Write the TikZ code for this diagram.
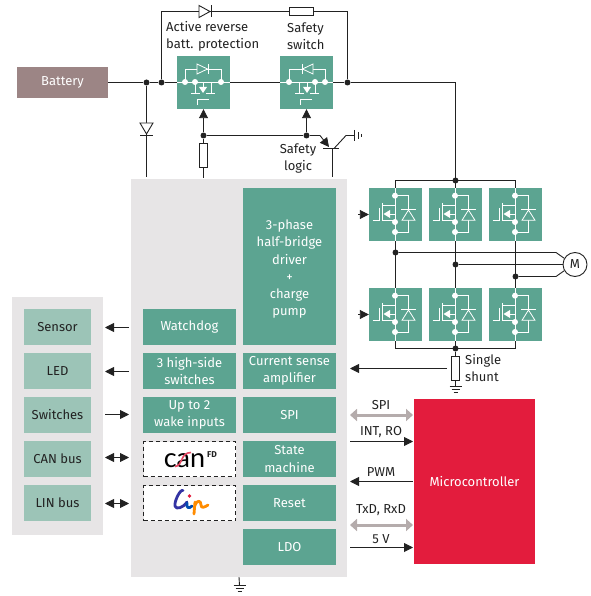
\documentclass[tikz,border=0pt]{standalone}
\usepackage{fontspec}
\setmainfont{Fira Sans}
\newfontfamily\canfont{Lato}
\usetikzlibrary{arrows.meta}
\definecolor{grn}{HTML}{5CA491}
\definecolor{lgrn}{HTML}{9CC4B7}
\definecolor{pnl}{HTML}{E7E5E6}
\definecolor{ink}{HTML}{222222}
\definecolor{bat}{HTML}{9C8585}
\definecolor{mcu}{HTML}{E31C3D}
\definecolor{garr}{HTML}{B5ACAC}
\tikzset{
 x=1pt,y=-1pt,
 every node/.style={font=\fontsize{13}{17.2}\selectfont,text=ink,align=center,inner sep=0pt},
 wire/.style={draw=ink,line width=0.9pt},
 arr/.style={wire,-{Triangle[length=9pt,width=9pt]}},
 darr/.style={wire,{Triangle[length=9pt,width=9pt]}-{Triangle[length=9pt,width=9pt]}},
 garrow/.style={draw=garr,line width=3pt,{Triangle[length=7pt,width=12pt]}-{Triangle[length=7pt,width=12pt]}},
 gbox/.style={fill=grn,text=white,minimum width=93pt,minimum height=36pt},
 lbox/.style={fill=lgrn,minimum width=67pt,minimum height=36pt},
 swbox/.style={fill=grn,minimum width=53pt,minimum height=53pt},
 logobox/.style={draw=ink,dash pattern=on 4pt off 3pt,line width=1.1pt,fill=white,minimum width=92pt,minimum height=35pt},
 res/.style={draw=ink,line width=0.9pt,fill=white,minimum width=8pt,minimum height=24pt},
 resh/.style={draw=ink,line width=0.9pt,fill=white,minimum width=24pt,minimum height=8pt},
 dot/.style={circle,fill=ink,minimum size=6pt},
 wdot/.style={circle,fill=white,minimum size=6pt},
 ic/.style={draw=white,line width=0.8pt},
 pass/.pic={
  \draw[ic] (0,26)--(53,26);
  \draw[ic] (8,26)--(8,13)--(44,13)--(44,26);
  \draw[ic,fill=grn] (20,8)--(30.5,13)--(20,18)--cycle;
  \draw[ic] (31,8)--(31,18);
  \draw[ic] (18,26)--(18,37);
  \draw[ic] (14,37)--(23,37) (29,37)--(38,37);
  \draw[ic] (18,26.5)--(26,26.5)--(26,31);
  \fill[white] (22,31)--(30,31)--(26,37)--cycle;
  \draw[ic] (34,37)--(34,26)--(44,26);
  \node[wdot] at (8,26) {};\node[wdot] at (18,26) {};\node[wdot] at (44,26) {};
 },
 bridge/.pic={
  \draw[ic] (26,0)--(26,53);
  \draw[ic] (26,7.7)--(39.5,7.7)--(39.5,44)--(26,44);
  \draw[ic,fill=grn] (39.5,22)--(33,32.3)--(46,32.3)--cycle;
  \draw[ic] (32,21.7)--(47,21.7);
  \draw[ic] (3.5,32)--(10,32)--(10,20);
  \draw[ic] (13.7,15)--(13.7,33);
  \draw[ic] (13.7,17.7)--(26,17.7) (13.7,32)--(26,32);
  \draw[ic] (16,26)--(26,26)--(26,34);
  \fill[white] (14.5,26)--(21,22)--(21,30)--cycle;
  \node[wdot] at (26,7.7) {};\node[wdot] at (26,34) {};\node[wdot] at (26,44) {};
 },
 gnd/.pic={
  \draw[wire] (-6,0)--(6,0) (-4,3)--(4,3) (-2,6)--(2,6);
 }
}
\begin{document}
\begin{tikzpicture}
\useasboundingbox (0,0) rectangle (590,596);
% panels
\node[fill=pnl,minimum width=216pt,minimum height=398pt] (main) at (239,378) {};
\node[fill=pnl,minimum width=91pt,minimum height=238pt] (side) at (57.5,416) {};
% wiring at the top
\node[fill=bat,text=white,minimum width=91pt,minimum height=31pt] (batt) at (62.5,82.5) {Battery};
\node[swbox] (m1) at (203.5,82.5) {};
\node[swbox] (m2) at (306.5,82.5) {};
\node[dot] (j1) at (146.5,82.5) {};
\node[dot] (j2) at (161.5,82.5) {};
\node[dot] (j3) at (347.5,82.5) {};
\coordinate (tl) at (161.5,11.5);
\coordinate (tr) at (347.5,11.5);
\coordinate (mid) at (455.5,82.5);
\coordinate (rail) at (455.5,180.5);
\draw[wire] (batt.east)--(j1)--(j2)--(m1.west);
\draw[wire] (m1.east)--(m2.west);
\draw[wire] (m2.east)--(j3)--(mid)--(rail);
\draw[wire] (j2)--(tl)--(tr)--(j3);
\node[resh] (rs) at (301,11.5) {};
\draw[wire,fill=white] (199,5.5)--(210,11.5)--(199,17.5)--cycle;
\draw[wire] (211,5.5)--(211,17.5);
\node[dot,minimum size=0pt] (dk) at (211,11.5) {};
\draw[wire] (dk)--(rs.west);
\coordinate (dl) at (146.5,177);
\draw[wire] (j1)--(dl);
\draw[wire,fill=white] (140,123)--(146.5,134)--(153,123)--cycle;
\draw[wire] (140,135)--(153,135);
\path (m1) pic[shift={(-26.5,-26.5)}] {pass};
\path (m2) pic[shift={(26.5,-26.5)},xscale=-1] {pass};
% gates of the pass switches
\draw[ic] (197,105)--(197,99)--(209,99);
\draw[ic] (300,105)--(300,99)--(312,99);
% safety logic
\node[dot] (g1) at (203.5,135.5) {};
\node[dot] (g2) at (306.5,135.5) {};
\node[res] (r1) at (203.5,155.5) {};
\coordinate (ge) at (329,147);
\coordinate (tb) at (332.5,148.5);
\coordinate (tc) at (346,135.5);
\coordinate (tg) at (354.5,135.5);
\coordinate (tbot) at (332.5,177);
\draw[arr] (g1)--(m1.south);
\draw[arr] (g2)--(m2.south);
\draw[wire] (g1)--(r1.north);
\draw[wire] (r1.south)--(203.5,178);
\draw[wire] (g1)--(g2)--(320,135.5);
\draw[arr] (320,135.5)--(ge);
\draw[wire] (323,148.5)--(339,148.5);
\draw[wire] (tb)--(tbot);
\draw[wire] (334,148.5)--(tc)--(tg);
\draw[wire] (354.5,130)--(354.5,141) (358.5,132)--(358.5,139) (361.5,134)--(361.5,137);
\node[anchor=west,align=left] at (166,36) {Active reverse\\batt. protection};
\node[anchor=west,align=left] at (287,36) {Safety\\switch};
\node (sl) at (298,158.5) {Safety\\logic};
% IC blocks
\node[gbox,minimum height=157pt] (drv) at (289.5,266.5) {\\[-2pt]3-phase\\half-bridge\\driver\\+\\charge\\pump};
\node[gbox] (wd) at (189.5,327) {Watchdog};
\node[gbox] (hs) at (189.5,371) {3 high-side\\switches};
\node[gbox] (wk) at (189.5,415) {Up to 2\\wake inputs};
\node[gbox] (cs) at (289.5,371) {Current sense\\amplifier};
\node[gbox] (spi) at (289.5,415) {SPI};
\node[gbox] (sm) at (289.5,459) {State\\machine};
\node[gbox] (rst) at (289.5,503) {Reset};
\node[gbox] (ldo) at (289.5,547) {LDO};
\node[logobox] (can) at (189.5,459) {};
\node[logobox] (lin) at (189.5,503) {};
% CAN logo
\node[anchor=base,font=\canfont\fontsize{27}{27}\selectfont,text=black] (cantext) at (184.5,467) {can};
\draw[draw=mcu!80!white,line width=1.6pt] (175,466.5) .. controls (183,466) and (180,452.5) .. (191,452.5);
\node[font=\fontsize{8.5}{9}\selectfont\bfseries] at (212,454.5) {FD};
% LIN logo
\begin{scope}[line cap=round,line join=round,line width=2.8pt]
 \draw[draw=blue!55!black!80] (183,490.5) .. controls (180,489) and (174,502) .. (175,506) .. controls (176,510) and (183,508) .. (187,502);
 \draw[draw=teal!60!blue] (187,503) .. controls (186,508) and (189,509) .. (192,506);
 \fill[mcu] (189.5,496) circle (1.8pt);
 \draw[draw=orange!90!yellow] (195,502) -- (194,514);
 \draw[draw=orange!90!yellow] (195,505) .. controls (197,500) and (201,500) .. (201,505) .. controls (201,509) and (205,507) .. (208,505);
\end{scope}
% left panel
\node[lbox] (sen) at (57.5,327) {Sensor};
\node[lbox] (led) at (57.5,371) {LED};
\node[lbox] (sw) at (57.5,415) {Switches};
\node[lbox] (canb) at (57.5,459) {CAN bus};
\node[lbox] (linb) at (57.5,503) {LIN bus};
\coordinate (a1) at (129,327.5);\coordinate (a1e) at (105,327.5);
\coordinate (a2) at (129,371.5);\coordinate (a2e) at (105,371.5);
\coordinate (a3) at (105,414.5);\coordinate (a3e) at (129,414.5);
\coordinate (a4) at (105,457.5);\coordinate (a4e) at (129,457.5);
\coordinate (a5) at (105,503.5);\coordinate (a5e) at (129,503.5);
\draw[arr] (a1)--(a1e);
\draw[arr] (a2)--(a2e);
\draw[arr] (a3)--(a3e);
\draw[darr] (a4)--(a4e);
\draw[darr] (a5)--(a5e);
% bridge
\foreach \n/\x/\y in {q1/395.5/214.5,q2/455.5/214.5,q3/515.5/214.5,q4/395.5/314.5,q5/455.5/314.5,q6/515.5/314.5}{
 \node[swbox] (\n) at (\x,\y) {};
}
\draw[wire] (q1.north)--(395.5,180.5)--(515.5,180.5)--(q3.north);
\draw[wire] (q2.north)--(rail);
\node[dot] at (rail) {};
\foreach \a/\b in {q1/q4,q2/q5,q3/q6}{\draw[wire] (\a.south)--(\b.north);}
\coordinate (brail) at (455.5,348.5);
\draw[wire] (q4.south)--(395.5,348.5)--(515.5,348.5)--(q6.south);
\draw[wire] (q5.south)--(brail);
\node[dot] (bd) at (brail) {};
\foreach \n in {q1,q2,q3,q4,q5,q6}{\path (\n) pic[shift={(-26.5,-26.5)}] {bridge};}
\node[circle,draw=ink,line width=0.9pt,fill=white,minimum size=24pt] (mot) at (575,264.5) {M};
\node[dot] (p1) at (395.5,252.5) {};
\node[dot] (p2) at (455.5,264.5) {};
\node[dot] (p3) at (515.5,276.5) {};
\draw[wire] (p1)--(556,252.5)--(mot.150);
\draw[wire] (p2)--(mot.west);
\draw[wire] (p3)--(556,276.5)--(mot.210);
\coordinate (d1) at (358,214.5);\coordinate (d2) at (358,314.5);
\draw[arr] (d1)--(q1.west);
\draw[arr] (d2)--(q4.west);
\node[res] (sh) at (455.5,368) {};
\draw[wire] (bd)--(sh.north);
\draw[wire] (sh.south)--(455.5,386.5);
\path (455.5,386.5) pic {gnd};
\coordinate (shl) at (447,368.5);\coordinate (shr) at (350,368.5);
\draw[arr] (shl)--(shr);
\node[anchor=west,align=left] at (465,368) {Single\\shunt};
% microcontroller
\node[fill=mcu,text=white,minimum width=121pt,minimum height=165pt] (uc) at (474.5,481.5) {Microcontroller};
\coordinate (b1) at (350,415);\coordinate (b1e) at (413,415);
\coordinate (b2) at (350,441.5);\coordinate (b2e) at (413,441.5);
\coordinate (b3) at (413,481.5);\coordinate (b3e) at (350,481.5);
\coordinate (b4) at (350,525);\coordinate (b4e) at (413,525);
\coordinate (b5) at (350,547.5);\coordinate (b5e) at (413,547.5);
\draw[garrow] (b1)--(b1e);
\draw[arr] (b2)--(b2e);
\draw[arr] (b3)--(b3e);
\draw[garrow] (b4)--(b4e);
\draw[arr] (b5)--(b5e);
\node at (381,405) {SPI};
\node at (381,432) {INT, RO};
\node at (381,472) {PWM};
\node at (381,510) {TxD, RxD};
\node at (381,539) {5 V};
% ground of the IC
\coordinate (gg) at (239.5,585.5);
\draw[wire] (main.south)--(gg);
\path (gg) pic {gnd};
\end{tikzpicture}
\end{document}
